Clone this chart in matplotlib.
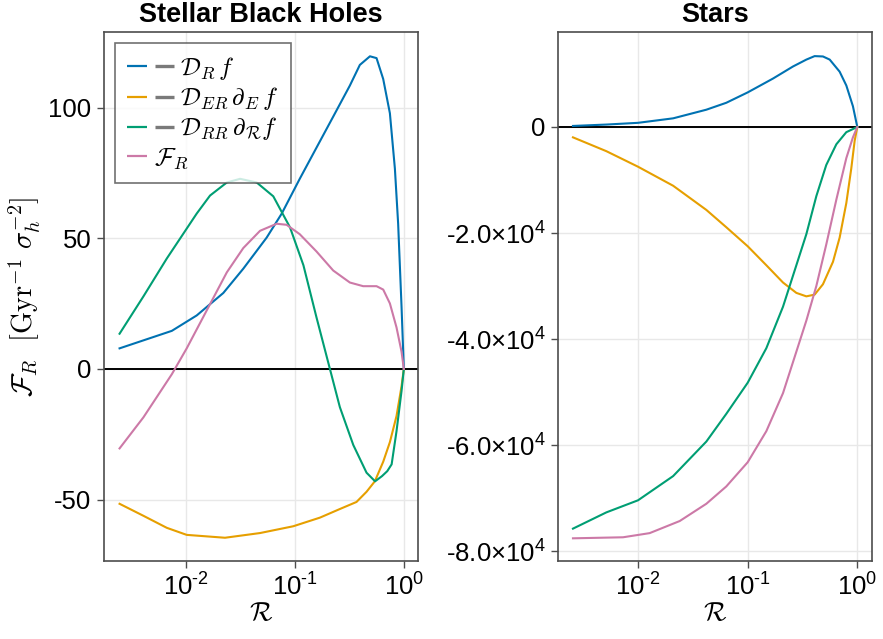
import math
import matplotlib
matplotlib.use("Agg")
import matplotlib.pyplot as plt
from matplotlib.lines import Line2D
from matplotlib.transforms import Affine2D
from matplotlib.ticker import FixedLocator, FuncFormatter, NullLocator

plt.rcParams['font.family'] = ['Liberation Sans', 'DejaVu Sans']
plt.rcParams['mathtext.fontset'] = 'custom'
plt.rcParams['mathtext.rm'] = 'Liberation Sans'
plt.rcParams['mathtext.it'] = 'Liberation Sans:italic'
plt.rcParams['mathtext.bf'] = 'Liberation Sans:bold'
plt.rcParams['axes.unicode_minus'] = False

# Line colours (Wong palette)
C_BLUE = (0 / 255, 114 / 255, 178 / 255)
C_ORANGE = (230 / 255, 159 / 255, 0 / 255)
C_GREEN = (0 / 255, 158 / 255, 115 / 255)
C_PINK = (204 / 255, 121 / 255, 167 / 255)

labels = [r"$\mathcal{D}_{R}\,f$",
          r"$\mathcal{D}_{ER}\,\partial_{E}\,f$",
          r"$\mathcal{D}_{RR}\,\partial_{\mathcal{R}}f$",
          r"$\mathcal{F}_{R}$"]
# the three diffusion terms are shown with a leading minus sign
negated = [True, True, True, False]

# ---------------- Stellar black holes ----------------
bh_DR_x = [0.00247, 0.00745, 0.0126, 0.0221, 0.0337, 0.0552, 0.0759, 0.111, 0.158,
           0.225, 0.320, 0.395, 0.489, 0.562, 0.647, 0.745, 0.828, 0.887, 0.953, 1.0]
bh_DR_y = [7.9, 14.6, 20.5, 29.1, 38.4, 50.3, 59.5, 72.8, 84.7,
           96.6, 108.5, 116.4, 119.7, 119.0, 111.0, 97.9, 76.7, 55.6, 23.8, 0.0]

bh_DER_x = [0.00247, 0.00409, 0.0067, 0.0102, 0.0229, 0.048, 0.0968, 0.170, 0.259,
            0.368, 0.455, 0.542, 0.647, 0.745, 0.857, 0.953, 1.0]
bh_DER_y = [-51.6, -56.2, -60.8, -63.5, -64.6, -62.8, -60.2, -56.9, -53.6,
            -50.9, -47.0, -43.0, -35.5, -28.0, -18.0, -6.6, 0.0]

bh_DRR_x = [0.00247, 0.00409, 0.0067, 0.0126, 0.0167, 0.0238, 0.0315, 0.0447, 0.0635,
            0.0904, 0.120, 0.158, 0.210, 0.259, 0.344, 0.455, 0.545, 0.631, 0.705,
            0.773, 0.857, 0.953, 1.0]
bh_DRR_y = [13.5, 27.8, 42.3, 59.5, 66.4, 71.4, 72.8, 71.4, 66.1,
            54.2, 39.7, 19.8, 0.0, -14.6, -29.1, -39.7, -43.0, -41.0, -39.1,
            -36.5, -23.8, -8.4, 0.0]

bh_FR_x = [0.00247, 0.00409, 0.00745, 0.0102, 0.0156, 0.0238, 0.0337, 0.048, 0.0682,
           0.0841, 0.111, 0.158, 0.225, 0.320, 0.424, 0.562, 0.647, 0.745, 0.857,
           0.953, 1.0]
bh_FR_y = [-30.4, -18.5, -2.0, 7.9, 22.5, 37.0, 46.3, 52.9, 55.6,
           55.2, 51.6, 45.0, 37.7, 33.1, 31.7, 31.7, 30.4, 25.1, 15.9,
           6.6, 0.0]

# ---------------- Stars ----------------
st_DR_x = [0.00255, 0.00514, 0.01, 0.0209, 0.042, 0.0638, 0.1, 0.170, 0.259,
           0.343, 0.408, 0.486, 0.560, 0.690, 0.794, 0.912, 1.0]
st_DR_y = [195, 456, 782, 1629, 3257, 4560, 6515, 9120, 11400,
           12700, 13355, 13290, 12700, 10423, 7818, 3909, 0]

st_DER_x = [0.00255, 0.00514, 0.01, 0.0209, 0.042, 0.0638, 0.1, 0.148, 0.210,
            0.278, 0.343, 0.408, 0.486, 0.600, 0.690, 0.794, 0.881, 0.946, 1.0]
st_DER_y = [-1954, -4560, -7492, -11075, -15635, -18893, -22476, -26059, -29316,
            -31270, -31922, -31596, -29642, -25407, -20847, -14332, -7818, -2606, 0]

st_DRR_x = [0.00255, 0.00514, 0.01, 0.0209, 0.042, 0.0638, 0.1, 0.148, 0.210,
            0.278, 0.343, 0.423, 0.521, 0.644, 0.794, 1.0]
st_DRR_y = [-75700, -72638, -70358, -65798, -59283, -54072, -48208, -41694, -33876,
            -26059, -20195, -13029, -7166, -3257, -977, 0]

st_FR_x = [0.00255, 0.0073, 0.01276, 0.024, 0.042, 0.0638, 0.1, 0.148, 0.210,
           0.278, 0.343, 0.423, 0.521, 0.644, 0.794, 0.912, 1.0]
st_FR_y = [-77524, -77329, -76547, -74267, -71010, -67752, -63192, -57329, -50163,
           -42345, -36482, -29967, -22150, -13681, -5863, -1954, 0]

x_ticks = [0.01, 0.1, 1.0]
bh_yticks = [-50, 0, 50, 100]
st_yticks = [-80000, -60000, -40000, -20000, 0]


def pow10_label(v, pos=None):
    e = int(round(math.log10(v)))
    return "10$^{\\text{%d}}$" % e


def sci_label(v, pos=None):
    if v == 0:
        return "0"
    e = int(math.floor(math.log10(abs(v))))
    m = v / 10 ** e
    return "%.1f×10$^{\\text{%d}}$" % (m, e)


class SignedHandle:
    """Legend key: the series colour, optionally followed by a grey minus dash."""

    def __init__(self, with_dash):
        self.with_dash = with_dash

    def legend_artist(self, legend, orig_handle, fontsize, handlebox):
        x0 = -handlebox.xdescent
        w = handlebox.width
        y = handlebox.height / 2 - handlebox.ydescent
        line = Line2D([x0, x0 + 0.43 * w], [y, y], color=orig_handle.get_color(),
                      lw=1.6, solid_capstyle="butt")
        line.set_transform(handlebox.get_transform())
        handlebox.add_artist(line)
        if self.with_dash:
            dash = Line2D([x0 + 0.60 * w, x0 + w], [y, y], color="#7a7a7a",
                          lw=2.4, solid_capstyle="butt")
            dash.set_transform(handlebox.get_transform())
            handlebox.add_artist(dash)
        return line


fig = plt.figure(figsize=(8.83, 6.39), dpi=100)
ax1 = fig.add_axes([104 / 883, 1 - 561 / 639, 314 / 883, 529 / 639])
ax2 = fig.add_axes([558 / 883, 1 - 561 / 639, 314 / 883, 529 / 639])

series_bh = [(bh_DR_x, bh_DR_y, C_BLUE), (bh_DER_x, bh_DER_y, C_ORANGE),
             (bh_DRR_x, bh_DRR_y, C_GREEN), (bh_FR_x, bh_FR_y, C_PINK)]
series_st = [(st_DR_x, st_DR_y, C_BLUE), (st_DER_x, st_DER_y, C_ORANGE),
             (st_DRR_x, st_DRR_y, C_GREEN), (st_FR_x, st_FR_y, C_PINK)]

bh_lines = []
for ax, series in ((ax1, series_bh), (ax2, series_st)):
    for (x, y, c), lab in zip(series, labels):
        ln, = ax.plot(x, y, color=c, lw=1.5, label=lab, zorder=3)
        if ax is ax1:
            bh_lines.append(ln)
    ax.axhline(0, color="black", lw=1.4, zorder=2)
    ax.set_xscale("log")
    ax.xaxis.set_major_locator(FixedLocator(x_ticks))
    ax.xaxis.set_major_formatter(FuncFormatter(pow10_label))
    ax.xaxis.set_minor_locator(NullLocator())
    ax.grid(True, color="#e8e8e8", lw=1.0, zorder=0)
    ax.set_axisbelow(True)
    for s in ax.spines.values():
        s.set_color("#4d4d4d")
        s.set_linewidth(1.2)
    ax.tick_params(axis="both", labelsize=18.5, direction="out", length=5,
                   width=1.0, color="#4d4d4d", pad=4)
    ax.set_xlabel(r"$\mathcal{R}$", fontsize=19, labelpad=0, math_fontfamily="cm")

ax1.set_xlim(10 ** -2.75, 10 ** 0.13)
ax1.set_ylim(-73.5, 129)
ax1.yaxis.set_major_locator(FixedLocator(bh_yticks))
ax1.set_ylabel(r"$\mathcal{F}_{R}\ \ [\mathrm{Gyr}^{-1}\ \sigma_{h}^{-2}]$", fontsize=20.5,
               labelpad=4, math_fontfamily="cm")
ax1.set_title("Stellar Black Holes", fontsize=19.5, fontweight="bold", pad=7)

ax2.set_xlim(10 ** -2.73, 10 ** 0.134)
ax2.set_ylim(-81800, 17900)
ax2.yaxis.set_major_locator(FixedLocator(st_yticks))
ax2.yaxis.set_major_formatter(FuncFormatter(sci_label))
ax2.set_title("Stars", fontsize=19.5, fontweight="bold", pad=7)

hmap = {ln: SignedHandle(neg) for ln, neg in zip(bh_lines, negated)}
leg = ax1.legend(handles=bh_lines, loc="upper left", fontsize=18, frameon=True,
                 fancybox=False, handler_map=hmap, handlelength=1.88,
                 handletextpad=0.28, labelspacing=0.15, borderpad=0.45,
                 borderaxespad=0.45)
leg.get_frame().set_edgecolor("#4d4d4d")
leg.get_frame().set_linewidth(1.2)
for t, neg in zip(leg.get_texts(), negated):
    t.set_math_fontfamily("cm")
    if not neg:
        # a positive term has no minus dash: its label sits next to the colour key
        t.set_transform(t.get_transform() + Affine2D().translate(-27, 0))

fig.savefig("out.png", dpi=100)
